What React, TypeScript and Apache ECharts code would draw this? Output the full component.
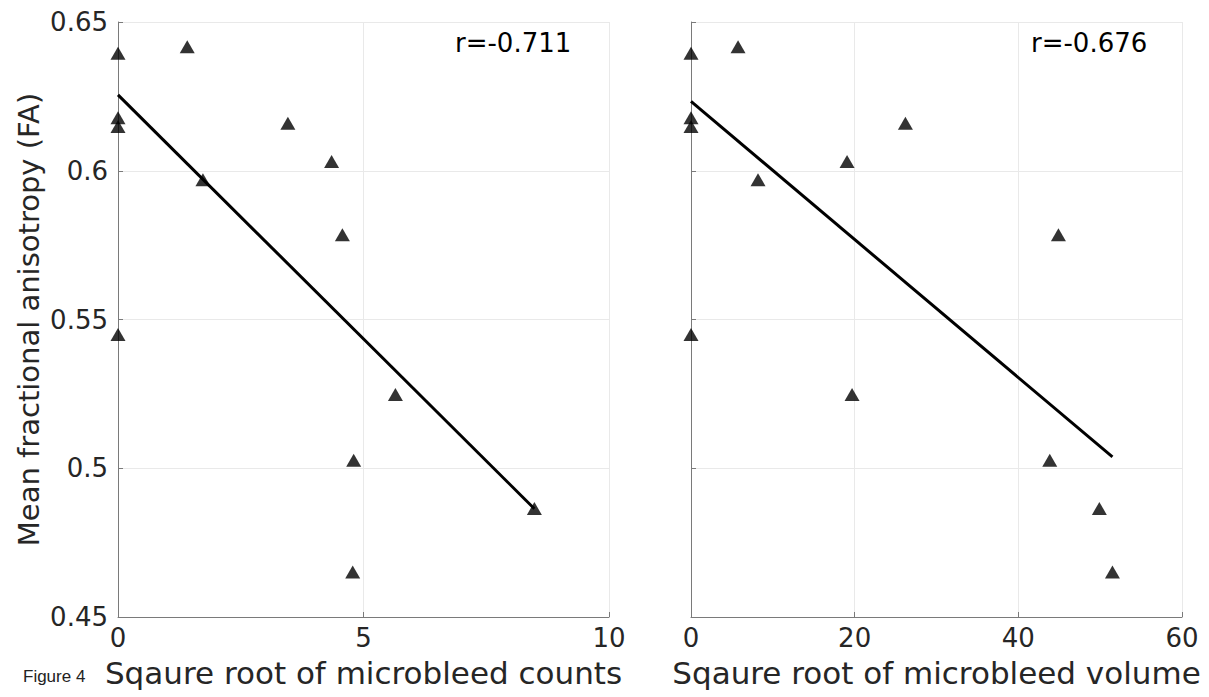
import React, { useEffect, useRef } from "react";
import * as echarts from "echarts";

// Mean FA for each subject (shared by both panels)
const faValues = [0.6395, 0.6417, 0.6178, 0.6149, 0.597, 0.616, 0.6031, 0.5785, 0.545, 0.5248, 0.4865, 0.5027, 0.4651];
// Square root of microbleed counts
const sqrtCounts = [0, 1.41, 0, 0, 1.73, 3.46, 4.35, 4.57, 0, 5.65, 8.48, 4.8, 4.78];
// Square root of microbleed volume
const sqrtVolume = [0, 5.75, 0, 0, 8.19, 26.2, 19.07, 44.9, 0, 19.68, 49.9, 43.84, 51.5];
// Fitted regression line end points
const fitCountsX = [0, 8.48];
const fitCountsY = [0.6255, 0.4864];
const fitVolumeX = [0, 51.5];
const fitVolumeY = [0.6233, 0.5038];
const rCounts = "r=-0.711";
const rVolume = "r=-0.676";
const xNameCounts = "Sqaure root of microbleed counts";
const xNameVolume = "Sqaure root of microbleed volume";
const yName = "Mean fractional anisotropy (FA)";
const figureLabel = "Figure 4";

const FONT = "DejaVu Sans";
const TXT = "#262626";
const AXIS = "#7a7a7a";
const GRID = "#e9e9e9";

export default function App() {
  const ref = useRef<HTMLDivElement>(null);
  useEffect(() => {
    if (!ref.current) return;
    const chart = echarts.init(ref.current, null, { renderer: "svg" });
    const xAxisBase = (idx: number, max: number, interval: number, name: string) => ({
      type: "value",
      gridIndex: idx,
      min: 0,
      max,
      interval,
      name,
      nameLocation: "middle",
      nameGap: 40,
      nameTextStyle: { fontFamily: FONT, fontSize: 31, color: TXT },
      axisLine: { show: true, onZero: false, lineStyle: { color: AXIS, width: 1 } },
      axisTick: { show: true, inside: true, length: 5, lineStyle: { color: AXIS } },
      axisLabel: { fontFamily: FONT, fontSize: 26, color: TXT, margin: 8 },
      splitLine: { show: true, lineStyle: { color: GRID, width: 1 } },
    });
    const yAxisBase = (idx: number, showLabel: boolean) => ({
      type: "value",
      gridIndex: idx,
      min: 0.45,
      max: 0.65,
      interval: 0.05,
      name: showLabel ? yName : "",
      nameLocation: "middle",
      nameGap: 75,
      nameTextStyle: { fontFamily: FONT, fontSize: 29, color: TXT },
      axisLine: { show: true, onZero: false, lineStyle: { color: AXIS, width: 1 } },
      axisTick: { show: true, inside: true, length: 5, lineStyle: { color: AXIS } },
      axisLabel: {
        show: showLabel,
        fontFamily: FONT,
        fontSize: 26,
        color: TXT,
        margin: 10,
        formatter: (v: number) => String(+v.toFixed(2)),
      },
      splitLine: { show: true, lineStyle: { color: GRID, width: 1 } },
    });
    const scatter = (idx: number, xs: number[]) => ({
      type: "scatter",
      xAxisIndex: idx,
      yAxisIndex: idx,
      symbol: "triangle",
      symbolSize: [15, 13],
      itemStyle: { color: "#000" },
      data: xs.map((x, i) => [x, faValues[i]]),
      z: 3,
    });
    const fit = (idx: number, xs: number[], ys: number[]) => ({
      type: "line",
      xAxisIndex: idx,
      yAxisIndex: idx,
      showSymbol: false,
      symbol: "none",
      lineStyle: { color: "#000", width: 3 },
      data: xs.map((x, i) => [x, ys[i]]),
      z: 4,
    });
    chart.setOption({
      animation: false,
      backgroundColor: "#fff",
      grid: [
        { left: 118, top: 22, width: 491, height: 595 },
        { left: 691, top: 22, width: 491, height: 595 },
      ],
      xAxis: [xAxisBase(0, 10, 5, xNameCounts), xAxisBase(1, 60, 20, xNameVolume)],
      yAxis: [yAxisBase(0, true), yAxisBase(1, false)],
      series: [
        scatter(0, sqrtCounts),
        fit(0, fitCountsX, fitCountsY),
        scatter(1, sqrtVolume),
        fit(1, fitVolumeX, fitVolumeY),
      ],
      graphic: [
        {
          type: "text",
          left: 455,
          top: 30,
          style: { text: rCounts, fontFamily: FONT, fontSize: 26, fill: "#000" },
        },
        {
          type: "text",
          left: 1031,
          top: 30,
          style: { text: rVolume, fontFamily: FONT, fontSize: 26, fill: "#000" },
        },
        {
          type: "text",
          left: 23,
          top: 668,
          style: { text: figureLabel, fontFamily: "Liberation Sans", fontSize: 17, fill: "#222" },
        },
      ],
    });
    return () => chart.dispose();
  }, []);
  return (
    <div
      ref={ref}
      style={{ position: "fixed", left: 0, top: 0, width: 1209, height: 697, background: "#fff" }}
    />
  );
}
